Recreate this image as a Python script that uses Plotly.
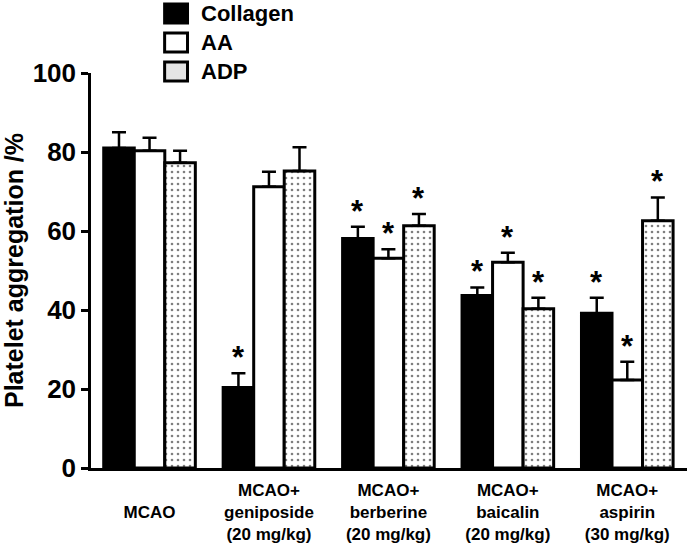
import plotly.graph_objects as go

groups = ["MCAO", "MCAO+<br>geniposide<br>(20 mg/kg)", "MCAO+<br>berberine<br>(20 mg/kg)",
          "MCAO+<br>baicalin<br>(20 mg/kg)", "MCAO+<br>aspirin<br>(30 mg/kg)"]
tick_text = [" <br>MCAO"] + groups[1:]

series = ["Collagen", "AA", "ADP"]
collagen = [81.0, 20.4, 58.1, 43.7, 39.2]
collagen_err = [4.0, 3.6, 3.0, 2.0, 3.9]
aa = [80.3, 71.2, 53.1, 52.1, 22.3]
aa_err = [3.3, 3.8, 2.3, 2.4, 4.6]
adp = [77.3, 75.2, 61.3, 40.3, 62.6]
adp_err = [3.0, 6.0, 3.0, 2.8, 5.9]

collagen_sig = [False, True, True, True, True]
aa_sig = [False, False, True, True, True]
adp_sig = [False, False, True, True, True]

FONT = "Liberation Sans, Arial, sans-serif"
W, H = 690, 544
ML, MR, MT, MB = 88, 3, 73, 76
x = list(range(len(groups)))
bargap = 0.233
bw = (1 - bargap) / 3

fig = go.Figure()
styles = [
    dict(color="black", line=dict(color="black", width=3)),
    dict(color="white", line=dict(color="black", width=3)),
    dict(color="white", line=dict(color="black", width=3),
         pattern=dict(shape=".", fgcolor="black", bgcolor="white", size=6, solidity=0.15)),
]
vals = [collagen, aa, adp]
errs = [collagen_err, aa_err, adp_err]
sigs = [collagen_sig, aa_sig, adp_sig]

for name, v, e, st in zip(series, vals, errs, styles):
    fig.add_trace(go.Bar(
        x=x, y=v, name=name, marker=st, showlegend=False,
        error_y=dict(type="data", symmetric=False, array=e, arrayminus=[0] * len(e),
                     color="black", thickness=2.5, width=7),
    ))

for i, (v, e, s) in enumerate(zip(vals, errs, sigs)):
    for g in range(len(groups)):
        if s[g]:
            fig.add_annotation(x=g + (i - 1) * bw, y=v[g] + e[g], text="<b>*</b>",
                               showarrow=False, yanchor="bottom", yshift=-4,
                               font=dict(family=FONT, size=31, color="black"))

# legend drawn as paper-positioned boxes + labels (to match the large keys)
pw, ph = W - ML - MR, H - MT - MB
def px(v):
    return (v - ML) / pw
def py(v):
    return (H - MB - v) / ph

legend_fills = ["black", "white", "#e4e4e4"]
legend_rows = [(4, 23), (33, 52), (62, 81)]
for name, fill, (t, b) in zip(series, legend_fills, legend_rows):
    fig.add_shape(type="rect", xref="paper", yref="paper",
                  x0=px(162), x1=px(185), y0=py(b), y1=py(t),
                  fillcolor=fill, line=dict(color="black", width=3))
    fig.add_annotation(xref="paper", yref="paper", x=px(197), y=py((t + b) / 2),
                       text=name, showarrow=False, xanchor="left", yanchor="middle",
                       font=dict(family=FONT, size=22, color="black", weight="bold"))

fig.update_layout(
    width=W, height=H,
    margin=dict(l=ML, r=MR, t=MT, b=MB),
    paper_bgcolor="white", plot_bgcolor="white",
    barmode="group", bargap=bargap, bargroupgap=0,
    font=dict(family=FONT, color="black"),
    showlegend=False,
    xaxis=dict(range=[-0.49, 4.5], tickmode="array", tickvals=x, ticktext=tick_text,
               showline=True, linecolor="black", linewidth=2.5, ticks="",
               showgrid=False, zeroline=False, ticklabelstandoff=5, automargin=False,
               tickfont=dict(family=FONT, size=17, color="black", weight="bold")),
    yaxis=dict(range=[0, 100], tickvals=[0, 20, 40, 60, 80, 100],
               showline=True, linecolor="black", linewidth=2.5,
               ticks="outside", ticklen=7, tickwidth=2.5, tickcolor="black",
               showgrid=False, zeroline=False,
               tickfont=dict(family=FONT, size=26, color="black", weight="bold"),
               title=dict(text="Platelet aggregation /%", standoff=12,
                          font=dict(family=FONT, size=25, color="black", weight="bold"))),
)

fig.write_html("out.html", config={"displayModeBar": False},
               post_script="document.body.style.margin='0';")
